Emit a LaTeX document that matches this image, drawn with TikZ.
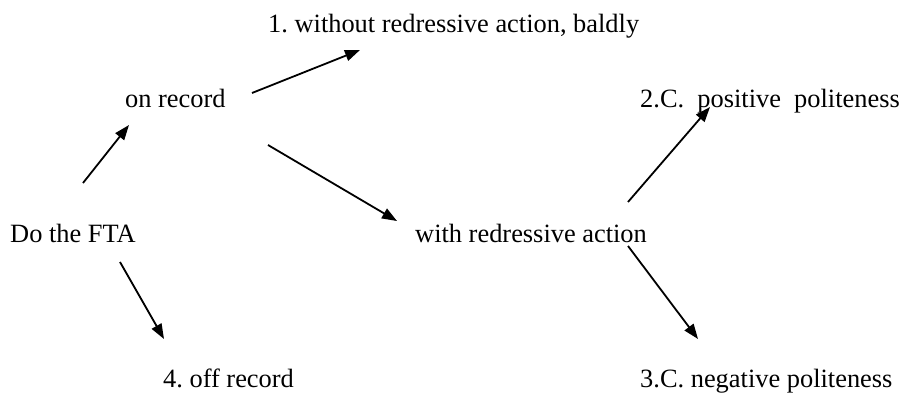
\documentclass[tikz,border=0pt]{standalone}
\usepackage{fontspec}
\setmainfont{Liberation Serif}
\usetikzlibrary{arrows.meta}
\begin{document}
\frenchspacing
\begin{tikzpicture}[x=1pt,y=-1pt,
  lbl/.style={anchor=base west,inner sep=0pt,font=\fontsize{26.4}{30}\selectfont},
  arr/.style={line width=1.8pt,-{Triangle[length=15pt,width=11pt]}}]
\useasboundingbox (0,0) rectangle (901,393);
\node[lbl] (fta) at (10,242) {Do the FTA};
\node[lbl] (on) at (125,108) {on record};
\node[lbl] (bald) at (268,33) {1. without redressive action, baldly};
\node[lbl] (with) at (415,242) {with redressive action};
\node[lbl] (pos) at (640,108) {2.C.~ positive~ politeness};
\node[lbl] (off) at (163,387) {4. off record};
\node[lbl] (neg) at (640,387) {3.C. negative politeness};
\coordinate (a1) at (83,183);  \coordinate (b1) at (129,125);
\coordinate (a2) at (252,93);  \coordinate (b2) at (360,50);
\coordinate (a3) at (268,145); \coordinate (b3) at (397,221);
\coordinate (a4) at (120,262); \coordinate (b4) at (164,339);
\coordinate (a5) at (628,202); \coordinate (b5) at (710,107);
\coordinate (a6) at (628,246); \coordinate (b6) at (698,339);
\draw[arr] (a1) -- (b1);
\draw[arr] (a2) -- (b2);
\draw[arr] (a3) -- (b3);
\draw[arr] (a4) -- (b4);
\draw[arr] (a5) -- (b5);
\draw[arr] (a6) -- (b6);
\end{tikzpicture}
\end{document}
